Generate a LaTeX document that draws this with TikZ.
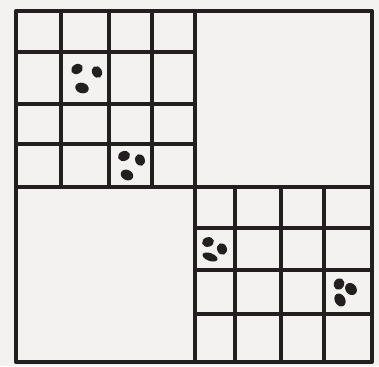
\documentclass[tikz,border=0pt]{standalone}
\begin{document}
\begin{tikzpicture}[x=1pt,y=-1pt,
  gridline/.style={line width=3.6pt,draw=inkc,line cap=round,line join=round},
  blob/.style={fill=inkc}]
\definecolor{bgc}{HTML}{F4F1F1}
\definecolor{inkc}{HTML}{231F20}
\fill[bgc] (0,0) rectangle (379,366);
\useasboundingbox (0,0) rectangle (379,366);
% outer square
\draw[gridline,line width=4pt] (16,11) rectangle (372,362);
% main cross
\draw[gridline] (195,11) -- (195,362);
\draw[gridline] (16,187) -- (372,187);
% top-left subgrid
\foreach \x in {61,109,152} \draw[gridline] (\x,11) -- (\x,187);
\foreach \y in {52,104,144} \draw[gridline] (16,\y) -- (195,\y);
% bottom-right subgrid
\foreach \x in {235,281,324} \draw[gridline] (\x,187) -- (\x,362);
\foreach \y in {228,270,314} \draw[gridline] (195,\y) -- (372,\y);
% blobs
\fill[blob,rotate around={30:(77,69)}] (77,69) ellipse (6.2pt and 4.8pt);
\fill[blob,rotate around={-60:(97,72)}] (97,72) ellipse (6.2pt and 4.9pt);
\fill[blob,rotate around={-15:(82,88)}] (82,88) ellipse (6.8pt and 5.2pt);
\fill[blob,rotate around={20:(124,156)}] (124,156) ellipse (6.2pt and 4.9pt);
\fill[blob,rotate around={-70:(140,160)}] (140,160) ellipse (6pt and 4.8pt);
\fill[blob,rotate around={-25:(127,175)}] (127,175) ellipse (6.5pt and 5.1pt);
\fill[blob,rotate around={15:(208,242)}] (208,242) ellipse (6pt and 4.8pt);
\fill[blob,rotate around={-70:(222,249)}] (222,249) ellipse (5.9pt and 4.9pt);
\fill[blob,rotate around={-20:(210,257)}] (210,257) ellipse (7.8pt and 3.9pt);
\fill[blob,rotate around={60:(339,284)}] (339,284) ellipse (6pt and 5.1pt);
\fill[blob,rotate around={-50:(351,289)}] (351,289) ellipse (6.5pt and 5.4pt);
\fill[blob,rotate around={-60:(340,300)}] (340,300) ellipse (6.8pt and 5.2pt);
\end{tikzpicture}
\end{document}
